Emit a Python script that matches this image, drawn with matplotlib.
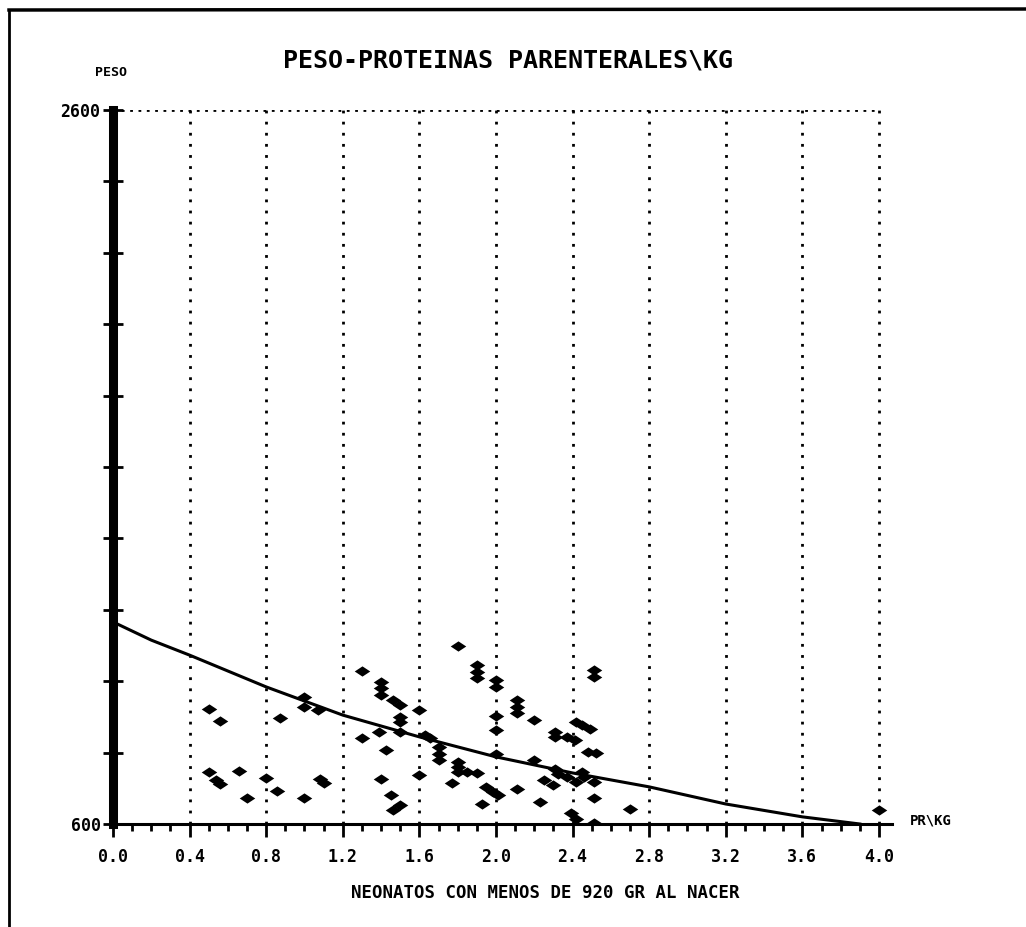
import matplotlib.pyplot as plt
import numpy as np
from matplotlib.path import Path
from matplotlib.lines import Line2D

# scatter data: PR/KG vs PESO
pr_kg = [0.50, 0.56, 0.50, 0.54, 0.56, 0.66, 0.70, 0.80, 0.855, 0.87,
         1.00, 1.00, 1.07, 1.00, 1.08, 1.10, 1.30, 1.30, 1.40, 1.40,
         1.40, 1.39, 1.425, 1.40, 1.45, 1.46, 1.50, 1.46, 1.50, 1.50,
         1.50, 1.50, 1.60, 1.60, 1.63, 1.655, 1.70, 1.70, 1.70, 1.80,
         1.77, 1.80, 1.80, 1.80, 1.85, 1.90, 1.90, 1.90, 1.90, 1.925,
         1.95, 1.985, 2.01, 2.00, 2.00, 2.00, 2.00, 2.00, 2.11, 2.11,
         2.11, 2.11, 2.20, 2.20, 2.23, 2.25, 2.30, 2.31, 2.31, 2.31,
         2.325, 2.37, 2.41, 2.42, 2.45, 2.49, 2.48, 2.52, 2.51, 2.51,
         2.37, 2.45, 2.46, 2.42, 2.51, 2.51, 2.39, 2.42, 2.51, 2.70,
         4.00]
peso = [921, 889, 746, 723, 712, 748, 674, 729, 693, 896,
        955, 928, 919, 672, 727, 716, 1029, 840, 998, 980,
        961, 858, 807, 727, 681, 639, 653, 947, 933, 900,
        886, 858, 919, 737, 849, 840, 816, 797, 779, 1099,
        715, 774, 760, 746, 746, 743, 1045, 1026, 1008, 656,
        704, 690, 681, 1003, 984, 902, 863, 796, 947, 928,
        910, 699, 891, 779, 662, 723, 709, 858, 844, 755,
        741, 844, 835, 886, 877, 867, 802, 798, 1031, 1012,
        732, 746, 732, 718, 718, 672, 630, 615, 602, 642,
        639]

# fitted curve
curve_x = [0.0, 0.2, 0.4, 0.8, 1.2, 1.6, 2.0, 2.4, 2.8, 3.2, 3.6, 3.9]
curve_y = [1166, 1115, 1073, 984, 905, 844, 788, 743, 704, 656, 620, 600]

xticks = [0.0, 0.4, 0.8, 1.2, 1.6, 2.0, 2.4, 2.8, 3.2, 3.6, 4.0]
xlabels = ['0.0', '0.4', '0.8', '1.2', '1.6', '2.0', '2.4', '2.8', '3.2', '3.6', '4.0']
yticks = [600, 800, 1000, 1200, 1400, 1600, 1800, 2000, 2200, 2400, 2600]

W, H = 1026, 927
fig = plt.figure(figsize=(W / 100, H / 100), dpi=100, facecolor='white')

# axes placed by pixel: x 0.0 at 113, 4.07 at 892; y 600 at 824, 2600 at 110
ax = fig.add_axes([113 / W, (H - 824) / H, 779.4 / W, 714 / H])
ax.set_xlim(0, 4.07)
ax.set_ylim(600, 2600)

mono = ['DejaVu Sans Mono']

# flattened diamond marker
diamond = Path([(-1, 0), (0, 0.66), (1, 0), (0, -0.66), (-1, 0)],
               [Path.MOVETO, Path.LINETO, Path.LINETO, Path.LINETO, Path.CLOSEPOLY])

# dotted grid
for xv in xticks[1:]:
    ax.vlines(xv, 600, 2600, colors='black', linestyles=(0, (1, 3.0)), linewidth=2.0)
ax.hlines(2600, 0, 4.0, colors='black', linestyles=(0, (1, 2.0)), linewidth=2.0)

ax.plot(curve_x, curve_y, color='black', linewidth=2.2, zorder=3)
ax.scatter(pr_kg, peso, marker=diamond, s=125, color='black', linewidths=0, zorder=4)

# spines
ax.spines['top'].set_visible(False)
ax.spines['right'].set_visible(False)
ax.spines['left'].set_linewidth(6.5)
ax.spines['bottom'].set_linewidth(2.2)

ax.set_xticks(xticks)
ax.set_xticklabels(xlabels, fontfamily=mono, fontweight='bold', fontsize=12)
ax.set_xticks(np.arange(0, 4.01, 0.1), minor=True)
ax.tick_params(axis='x', which='major', direction='out', length=9, width=2, pad=8)
ax.tick_params(axis='x', which='minor', direction='out', length=5, width=2)

ax.set_yticks(yticks)
ax.set_yticklabels(['600'] + [''] * 9 + ['2600'], fontfamily=mono, fontweight='bold', fontsize=12)
ax.tick_params(axis='y', direction='inout', length=14, width=2, pad=2)

# texts
def px(x, y):
    return x / W, 1 - y / H

fig.text(*px(508, 60), 'PESO-PROTEINAS PARENTERALES\\KG', ha='center', va='center',
         fontfamily=mono, fontweight='bold', fontsize=18)
fig.text(*px(95, 73), 'PESO', ha='left', va='center',
         fontfamily=mono, fontweight='bold', fontsize=9.5)
fig.text(*px(910, 821), 'PR\\KG', ha='left', va='center',
         fontfamily=mono, fontweight='bold', fontsize=10)
fig.text(*px(545, 893), 'NEONATOS CON MENOS DE 920 GR AL NACER', ha='center', va='center',
         fontfamily=mono, fontweight='bold', fontsize=12.5)

# page border from the scan
fig.add_artist(Line2D([9 / W, 9 / W], [0, 1 - 10 / H], transform=fig.transFigure,
                      color='black', linewidth=2))
fig.add_artist(Line2D([9 / W, 1], [1 - 10 / H, 1 - 9 / H], transform=fig.transFigure,
                      color='black', linewidth=2.5))

fig.savefig('out.png', dpi=100, facecolor='white')
